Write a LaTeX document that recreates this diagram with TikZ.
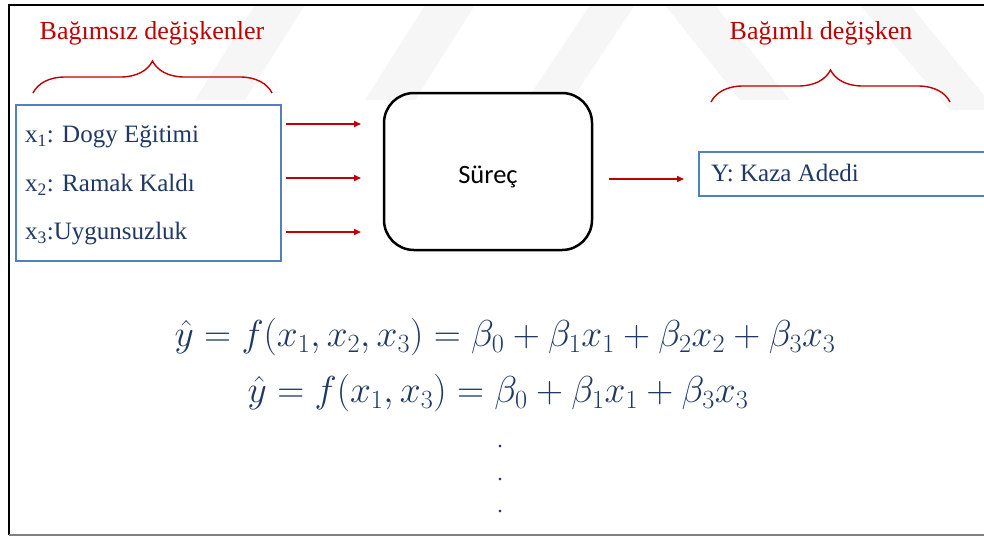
\RequirePackage{fix-cm}
\documentclass[tikz,border=0pt]{standalone}
\usepackage{fontspec}
\setmainfont{Liberation Serif}
\newfontfamily\calib{Carlito}
\usetikzlibrary{decorations.pathreplacing,arrows.meta}
\definecolor{tred}{RGB}{192,0,0}
\definecolor{navy}{RGB}{31,56,100}
\definecolor{bbox}{RGB}{79,129,189}
\definecolor{wm}{RGB}{246,246,246}
\tikzset{
  ttl/.style={text=tred, inner sep=0, font=\fontsize{26}{30}\selectfont},
  itm/.style={text=navy, inner sep=0, anchor=west, font=\fontsize{25}{30}\selectfont},
  arr/.style={draw=tred, line width=1.6pt, -{Triangle[length=7pt,width=6pt]}},
  brc/.style={draw=tred, line width=1.4pt, decorate, decoration={brace, amplitude=32pt}},
  eqn/.style={text=navy, inner sep=0, font=\fontsize{37.5}{42}\selectfont},
  dotn/.style={text=navy, inner sep=0, font=\fontsize{22}{26}\selectfont},
  stripe/.style={fill=wm, draw=none}
}
\begin{document}
\begin{tikzpicture}[x=1pt,y=-1pt]
\useasboundingbox (0,0) rectangle (984,536);
% watermark stripes
\fill[stripe] (255,5) -- (305,5) -- (245,100) -- (195,100) -- cycle;
\fill[stripe] (425,5) -- (475,5) -- (415,100) -- (365,100) -- cycle;
\fill[stripe] (590,5) -- (635,5) -- (575,95) -- (530,95) -- cycle;
\fill[stripe] (665,5) -- (715,5) -- (790,100) -- (740,100) -- cycle;
\fill[stripe] (860,5) -- (910,5) -- (984,95) -- (984,110) -- (950,110) -- cycle;
% frame
\draw[line width=2pt] (990,5) -- (8.5,5) -- (8.5,535);
\draw[gray, line width=1.5pt] (8.5,535) -- (990,535);
% titles
\node[ttl] (lt) at (152,33) {Bağımsız değişkenler};
\node[ttl] (rt) at (821,33) {Bağımlı değişken};
% braces
\coordinate (lb1) at (33,93);
\coordinate (lb2) at (272,93);
\coordinate (rb1) at (711,102);
\coordinate (rb2) at (950,102);
\draw[brc] (lb1) -- (lb2);
\draw[brc] (rb1) -- (rb2);
% input box
\node[draw=bbox, line width=2pt, minimum width=265pt, minimum height=156pt, anchor=north west, inner sep=0] (inbox) at (15,104) {};
\node[itm] (x1) at (25,137) {x\textsubscript{1}: Dogy Eğitimi};
\node[itm] (x2) at (25,185) {x\textsubscript{2}: Ramak Kaldı};
\node[itm] (x3) at (25,234) {x\textsubscript{3}:Uygunsuzluk};
% process
\node[draw, line width=2.5pt, rounded corners=30pt, minimum width=208pt, minimum height=157pt, inner sep=0] (proc) at (488,171.5) {};
\node[inner sep=0, font=\calib\fontsize{26.5}{30}\selectfont] (ptxt) at (488,177) {Süreç};
% output box
\node[draw=bbox, line width=2pt, minimum width=300pt, minimum height=44pt, anchor=north west, inner sep=0] (outbox) at (698,151) {};
\node[itm] (y) at (711,173) {Y: Kaza Adedi};
% arrows
\coordinate (a1s) at (286,124); \coordinate (a1e) at (361,124);
\coordinate (a2s) at (286,178); \coordinate (a2e) at (361,178);
\coordinate (a3s) at (286,232); \coordinate (a3e) at (361,232);
\coordinate (a4s) at (609,179); \coordinate (a4e) at (684,179);
\draw[arr] (a1s) -- (a1e);
\draw[arr] (a2s) -- (a2e);
\draw[arr] (a3s) -- (a3e);
\draw[arr] (a4s) -- (a4e);
% equations
\node[eqn] (eq1) at (505,337) {$\hat{y}=f(x_1,x_2,x_3)=\beta_0+\beta_1x_1+\beta_2x_2+\beta_3x_3$};
\node[eqn] (eq2) at (498,393) {$\hat{y}=f(x_1,x_3)=\beta_0+\beta_1x_1+\beta_3x_3$};
\node[dotn, anchor=base] (d1) at (500,447) {.};
\node[dotn, anchor=base] (d2) at (500,480) {.};
\node[dotn, anchor=base] (d3) at (500,512) {.};
\end{tikzpicture}
\end{document}
